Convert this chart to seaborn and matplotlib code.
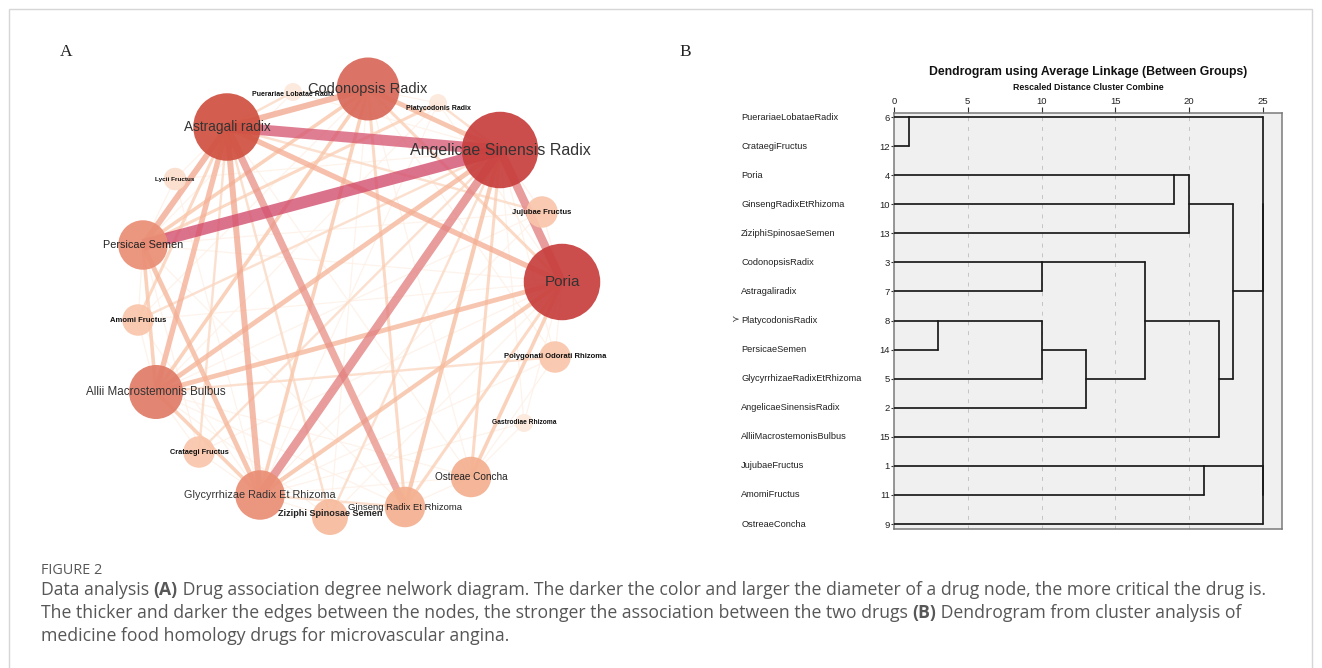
import pandas as pd
import seaborn as sns
import matplotlib.pyplot as plt
from matplotlib.colors import LinearSegmentedColormap
from matplotlib.patches import Rectangle


# --------------------------------------------------
# Panel A data: drug association network
# --------------------------------------------------

keys = ["Cod", "Pla", "Ang", "Juj", "Por", "Pol", "Gas", "Ost", "Gin",
        "Ziz", "Gly", "Cra", "All", "Amo", "Per", "Lyc", "Ast", "Pue"]

drugs = ["Codonopsis Radix", "Platycodonis Radix", "Angelicae Sinensis Radix",
         "Jujubae Fructus", "Poria", "Polygonati Odorati Rhizoma",
         "Gastrodiae Rhizoma", "Ostreae Concha", "Ginseng Radix Et Rhizoma",
         "Ziziphi Spinosae Semen", "Glycyrrhizae Radix Et Rhizoma",
         "Crataegi Fructus", "Allii Macrostemonis Bulbus", "Amomi Fructus",
         "Persicae Semen", "Lycii Fructus", "Astragali radix",
         "Puerariae Lobatae Radix"]

degree = [14, 4, 17, 7, 17, 7, 4, 9, 9, 8, 11, 7, 12, 7, 11, 5, 15, 4]

# circular layout
layout_x = [368, 438, 500, 542, 562, 555, 524, 471, 405, 330, 260, 199,
            156, 138, 143, 175, 227, 293]
layout_y = [89, 103, 150, 212, 282, 357, 423, 477, 507, 517, 495, 452,
            392, 320, 245, 179, 127, 92]

edge_a = ["Ang", "Ast", "Ang", "Ang", "Ast",
          "Ast", "Ast", "Ast", "Ast", "Ast", "Per", "All", "All", "Cod",
          "Gin", "Gly", "Ost", "All", "Per", "All", "Gly", "Gly", "Amo",
          "Por", "Ost", "Per", "Gin", "Gin", "Gly", "Ziz", "Ziz", "Cra",
          "Pol", "Juj", "Pue", "Pla", "Cra", "Amo",
          "Lyc", "Lyc", "Lyc", "Pue", "Pue", "Pue", "Pla", "Pla", "Pla",
          "Pla", "Juj", "Juj", "Juj", "Juj", "Pol", "Pol", "Pol", "Pol",
          "Gas", "Gas", "Gas", "Gas", "Ost", "Ost", "Ost", "Ost", "Ost",
          "Ziz", "Ziz", "Ziz", "Ziz", "Ziz", "Cra", "Cra", "Cra", "Cra",
          "Amo", "Amo", "Amo", "Amo", "Amo", "Gin", "Gin", "Per", "Juj",
          "Pol", "Lyc"]
edge_b = ["Per", "Ang", "Por", "Gly", "Gin",
          "Per", "Cod", "Gly", "All", "Por", "Gly", "Por", "Ang", "Ang",
          "Ang", "Por", "Por", "Per", "Cod", "Cod", "Cod", "All", "Ast",
          "Cod", "Ang", "Pla", "Cod", "Por", "Gin", "Ast", "Ang", "Ang",
          "All", "Ast", "Ast", "Ang", "Ast", "Ang",
          "Per", "Ang", "Gly", "Cod", "Per", "Ang", "Cod", "Gly", "All",
          "Por", "Ang", "Por", "Gly", "All", "Por", "Ang", "Gly", "Ost",
          "Por", "Ang", "Gly", "Ost", "Gly", "Gin", "All", "Ast", "Cod",
          "Gly", "Gin", "Por", "Cod", "All", "Gly", "All", "Por", "Per",
          "Per", "All", "Gly", "Por", "Cod", "All", "Per", "Por", "Per",
          "Cod", "Ast"]
edge_w = [10, 9, 7, 7, 6,
          5, 5, 5, 4.5, 4.5, 4, 4, 4, 4,
          3.5, 3.5, 3, 3, 3, 3, 3, 3, 2.5,
          2.5, 2.5, 2.5, 2.5, 2.5, 2, 2, 2, 2,
          2, 2, 2, 2, 2, 2,
          1, 1, 1, 1, 1, 1, 1, 1, 1,
          1, 1, 1, 1, 1, 1, 1, 1, 1,
          1, 1, 1, 1, 1, 1, 1, 1, 1,
          1, 1, 1, 1, 1, 1, 1, 1, 1,
          1, 1, 1, 1, 1, 1, 1, 1, 1,
          1, 1]


# --------------------------------------------------
# Panel B data: dendrogram (average linkage)
# --------------------------------------------------

leaf_names = ["PuerariaeLobataeRadix", "CrataegiFructus", "Poria",
              "GinsengRadixEtRhizoma", "ZiziphiSpinosaeSemen",
              "CodonopsisRadix", "Astragaliradix", "PlatycodonisRadix",
              "PersicaeSemen", "GlycyrrhizaeRadixEtRhizoma",
              "AngelicaeSinensisRadix", "AlliiMacrostemonisBulbus",
              "JujubaeFructus", "AmomiFructus", "OstreaeConcha"]
leaf_ids = ["6", "12", "4", "10", "13", "3", "7", "8", "14", "5", "2",
            "15", "1", "11", "9"]

merge_a = ["6", "8", "3", "m1", "m3", "m2", "4", "m6", "1", "m5", "m7",
           "m0", "m8", "m11"]
merge_b = ["12", "14", "7", "5", "2", "m4", "10", "13", "11", "15", "m9",
           "m10", "9", "m12"]
merge_dist = [1, 3, 10, 10, 13, 17, 19, 20, 21, 22, 23, 25, 25, 25]

dist_ticks = [0, 5, 10, 15, 20, 25]


# --------------------------------------------------
# Figure setup
# --------------------------------------------------

W, H = 1322, 668

sns.set_theme(style="white")
plt.rcParams["font.family"] = ["Liberation Sans", "DejaVu Sans"]

fig = plt.figure(figsize=(W / 100, H / 100), dpi=100)
fig.patch.set_facecolor("white")

# light frame around the figure
fig.add_artist(Rectangle((9 / W, -0.05), (1312 - 9) / W, 1 - 9 / H + 0.05,
                         transform=fig.transFigure, fill=False,
                         ec="#d6d6d6", lw=1))


def px_axes(x0, y0, x1, y1):
    return fig.add_axes([x0 / W, 1 - y1 / H, (x1 - x0) / W, (y1 - y0) / H])


# --------------------------------------------------
# Panel A: network
# --------------------------------------------------

axA = px_axes(0, 0, 660, 540)
axA.set_xlim(0, 660)
axA.set_ylim(540, 0)
axA.set_axis_off()

pos = {k: (x, y) for k, x, y in zip(keys, layout_x, layout_y)}

rows = []
for i, (a, b, w) in enumerate(zip(edge_a, edge_b, edge_w)):
    rows.append({"edge": i, "x": pos[a][0], "y": pos[a][1], "weight": w})
    rows.append({"edge": i, "x": pos[b][0], "y": pos[b][1], "weight": w})
edges_df = pd.DataFrame(rows)

edge_cmap = LinearSegmentedColormap.from_list(
    "edges",
    [(0.0, "#fef0e6"), (0.12, "#fbd6bf"), (0.25, "#f8c1a2"),
     (0.45, "#f2a78f"), (0.6, "#e58d86"), (0.8, "#db6678"),
     (1.0, "#d24a6c")])

sns.lineplot(data=edges_df, x="x", y="y", units="edge", estimator=None,
             sort=False, hue="weight", size="weight", palette=edge_cmap,
             hue_norm=(1, 10), sizes=(0.9, 8.6), size_norm=(1, 10),
             alpha=0.78, legend=False, solid_capstyle="butt", ax=axA,
             zorder=1)

node_cmap = LinearSegmentedColormap.from_list(
    "nodes",
    [(0.0, "#fde9dc"), (0.23, "#f9c6ab"), (0.385, "#f4b090"),
     (0.54, "#ea8e76"), (0.615, "#e07c68"), (0.77, "#d9695a"),
     (0.846, "#d05242"), (1.0, "#c8403e")])

nodes_df = pd.DataFrame({"drug": drugs, "x": layout_x, "y": layout_y,
                         "degree": degree})
node_sizes = {d: (2 * 2.25 * d * 0.72) ** 2 for d in set(degree)}

sns.scatterplot(data=nodes_df, x="x", y="y", hue="degree", size="degree",
                palette=node_cmap, hue_norm=(4, 17), sizes=node_sizes,
                linewidth=0, alpha=0.93, legend=False, ax=axA, zorder=3)
axA.set_xlabel("")
axA.set_ylabel("")

label_size = [10.5, 5.0, 11.5, 5.5, 11.0, 5.5, 4.8, 7.2, 6.8, 6.6, 7.8,
              5.3, 8.4, 5.5, 7.8, 4.6, 9.8, 5.0]
label_bold = [False, True, False, True, False, True, True, False, False,
              True, False, True, False, True, False, True, False, True]
label_color = ["#333333", "#111111", "#333333", "#111111", "#333333",
               "#111111", "#111111", "#222222", "#222222", "#222222",
               "#333333", "#111111", "#333333", "#111111", "#222222",
               "#111111", "#333333", "#111111"]
label_dy = [0, 5, 0, 0, 0, 0, 0, 0, 0, -3, 0, 0, 0, 0, 0, 0, 0, 3]

for name, x, y, s, b, c, dy in zip(drugs, layout_x, layout_y, label_size,
                                   label_bold, label_color, label_dy):
    axA.text(x, y + dy, name, fontsize=s,
             fontweight="bold" if b else "normal", color=c,
             ha="center", va="center", zorder=4)

fig.text(66 / W, 1 - 52 / H, "A", fontsize=12.5, ha="center", va="center",
         family=["Liberation Serif", "DejaVu Serif"], color="#222222")


# --------------------------------------------------
# Panel B: dendrogram
# --------------------------------------------------

fig.text(685 / W, 1 - 52 / H, "B", fontsize=12.5, ha="center", va="center",
         family=["Liberation Serif", "DejaVu Serif"], color="#222222")

fig.text(1088 / W, 1 - 72 / H,
         "Dendrogram using Average Linkage (Between Groups)",
         fontsize=8.8, fontweight="bold", ha="center", va="center",
         color="#111111")
fig.text(1088 / W, 1 - 87 / H, "Rescaled Distance Cluster Combine",
         fontsize=6.3, fontweight="bold", ha="center", va="center",
         color="#111111")

axB = px_axes(894, 113, 1282, 529)
axB.set_facecolor("#f0f0f0")
axB.set_xlim(0, 26.3)
axB.set_ylim(14.17, -0.14)
for sp in axB.spines.values():
    sp.set_visible(True)
    sp.set_color("#7a7a7a")
    sp.set_linewidth(1.1)

for t in dist_ticks[1:-1]:
    axB.axvline(t, color="#c4c4c4", lw=0.7, ls=(0, (4, 6)), zorder=1)

px = {c: 0 for c in leaf_ids}
py = {c: i for i, c in enumerate(leaf_ids)}
segs = []
for k, (a, b, d) in enumerate(zip(merge_a, merge_b, merge_dist)):
    ya, yb = py[a], py[b]
    segs.append((px[a], ya, d, ya))
    segs.append((px[b], yb, d, yb))
    segs.append((d, ya, d, yb))
    py[f"m{k}"] = (ya + yb) // 2
    px[f"m{k}"] = d

seg_rows = []
for i, (x0, y0, x1, y1) in enumerate(segs):
    seg_rows.append({"seg": i, "x": x0, "y": y0})
    seg_rows.append({"seg": i, "x": x1, "y": y1})
seg_df = pd.DataFrame(seg_rows)

sns.lineplot(data=seg_df, x="x", y="y", units="seg", estimator=None,
             sort=False, color="#1a1a1a", lw=1.25, legend=False, ax=axB,
             zorder=3)
axB.set_xlabel("")
axB.set_ylabel("")

axB.xaxis.tick_top()
axB.set_xticks(dist_ticks)
axB.set_xticklabels([str(t) for t in dist_ticks])
axB.set_yticks(range(len(leaf_ids)))
axB.set_yticklabels(leaf_ids)
axB.tick_params(axis="x", top=True, bottom=False, length=4, width=0.8,
                color="#333333", labelsize=6.8, pad=1, labelcolor="#222222")
axB.tick_params(axis="y", left=True, length=2.5, width=0.8,
                color="#333333", labelsize=6.8, pad=0.5, labelcolor="#222222")

for i, name in enumerate(leaf_names):
    axB.text(-0.394, i, name, transform=axB.get_yaxis_transform(),
             fontsize=6.7, ha="left", va="center", color="#222222")
axB.text(-0.41, 7, "\u227b", transform=axB.get_yaxis_transform(),
         fontsize=6.5, ha="center", va="center", color="#333333",
         family=["DejaVu Sans"])


# --------------------------------------------------
# Caption
# --------------------------------------------------

cap_family = ["Open Sans", "DejaVu Sans"]
cap_color = "#575757"
renderer = fig.canvas.get_renderer()


def text_width(s, size, bold):
    t1 = fig.text(0, 0, "a" + s + "a", fontsize=size, family=cap_family,
                  fontweight="bold" if bold else "normal")
    t2 = fig.text(0, 0, "aa", fontsize=size, family=cap_family,
                  fontweight="bold" if bold else "normal")
    w = t1.get_window_extent(renderer).width - t2.get_window_extent(renderer).width
    t1.remove()
    t2.remove()
    return w


def rich_line(x_px, y_px, parts, size):
    x = x_px
    for s, bold in parts:
        fig.text(x / W, 1 - y_px / H, s, fontsize=size, family=cap_family,
                 fontweight="bold" if bold else "normal", color=cap_color,
                 ha="left", va="center")
        x += text_width(s, size, bold)


line1 = [("Data analysis ", False), ("(A)", True),
         (" Drug association degree nelwork diagram. The darker the color and "
          "larger the diameter of a drug node, the more critical the drug is.",
          False)]
line2 = [("The thicker and darker the edges between the nodes, the stronger "
          "the association between the two drugs ", False), ("(B)", True),
         (" Dendrogram from cluster analysis of", False)]
line3 = [("medicine food homology drugs for microvascular angina.", False)]

base = 10.0
w1 = sum(text_width(s, base, b) for s, b in line1)
cap_size = base * (1262 - 41) / w1

fig.text(41 / W, 1 - 570 / H, "FIGURE 2", fontsize=cap_size * 0.82,
         family=cap_family, color=cap_color, ha="left", va="center")
rich_line(41, 590, line1, cap_size)
rich_line(41, 613, line2, cap_size)
rich_line(41, 636, line3, cap_size)

plt.savefig("out.png", dpi=100)
